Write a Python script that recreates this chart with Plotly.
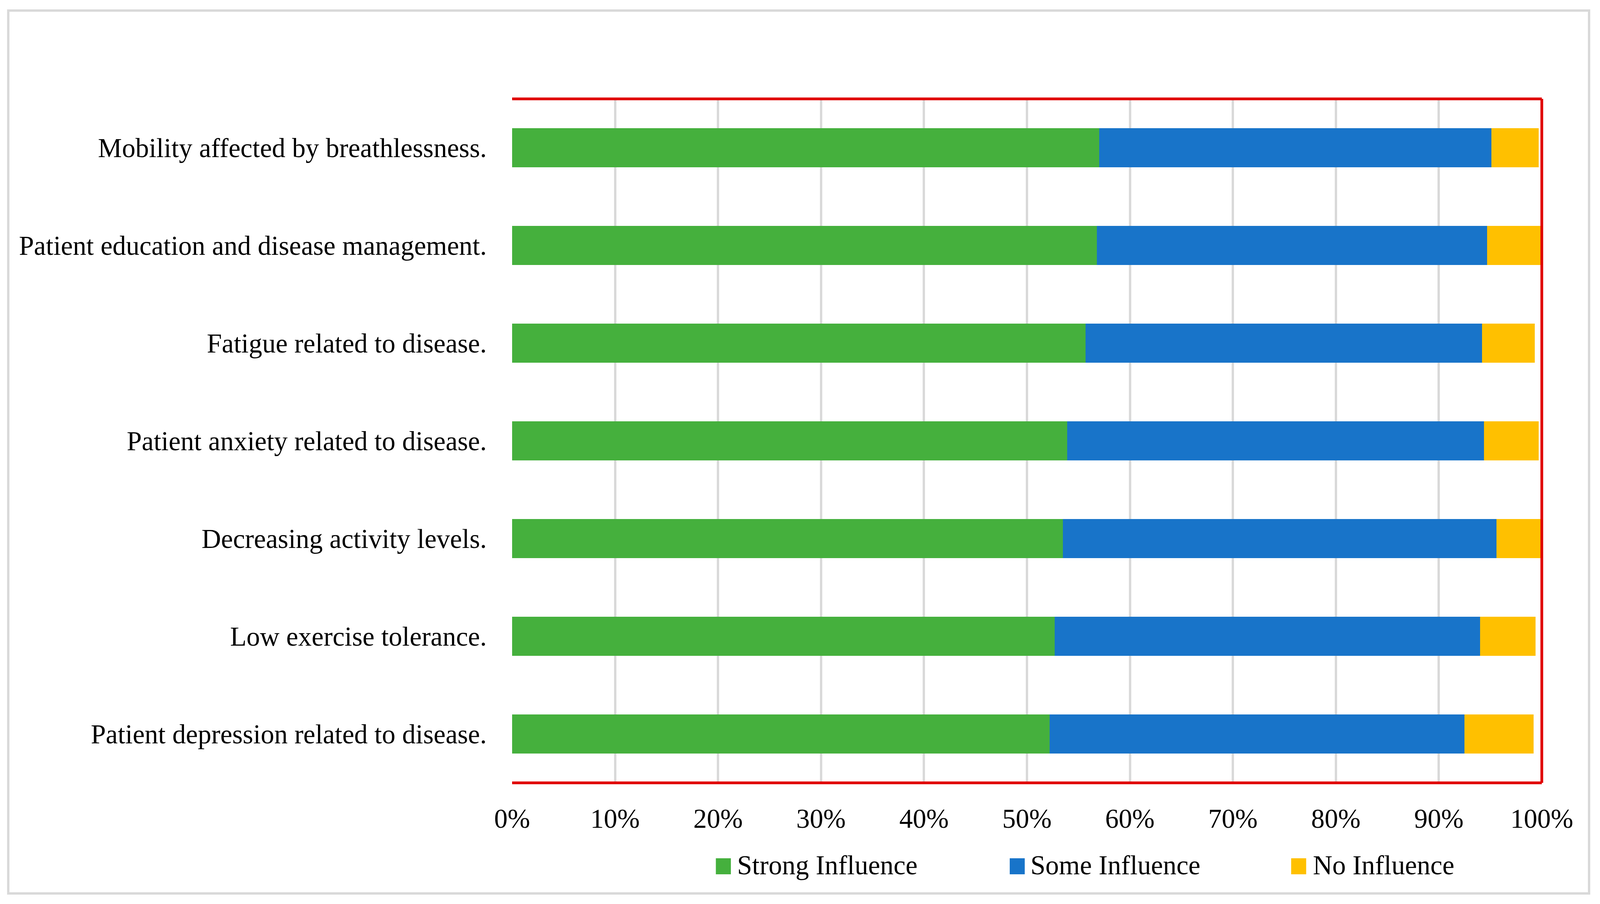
import plotly.graph_objects as go

categories = [
    "Mobility affected by breathlessness.",
    "Patient education and disease management.",
    "Fatigue related to disease.",
    "Patient anxiety related to disease.",
    "Decreasing activity levels.",
    "Low exercise tolerance.",
    "Patient depression related to disease.",
]
series_names = ["Strong Influence", "Some Influence", "No Influence"]
strong = [57.0, 56.8, 55.7, 53.9, 53.5, 52.7, 52.2]
some = [38.1, 37.9, 38.5, 40.5, 42.1, 41.3, 40.3]
none_ = [4.6, 5.2, 5.1, 5.3, 4.4, 5.4, 6.7]
tick_vals = [0, 10, 20, 30, 40, 50, 60, 70, 80, 90, 100]
tick_text = ["0%", "10%", "20%", "30%", "40%", "50%", "60%", "70%", "80%", "90%", "100%"]

colors = ["#45B03D", "#1874C9", "#FFC000"]
FONT = "Liberation Serif"

# viewport is about 4096 x 2313 css px; reference is 4366 x 2313
VW, VH = 4096, 2313
KX = 4366 / VW
KY = 2313 / VH
BODY = 8


def cx(v):
    return v / KX - BODY


def cy(v):
    return v / KY - BODY


W = VW - 2 * BODY
H = VH - 2 * BODY
L, R, T, B = cx(1397), cx(4207), cy(253), cy(2003)


def px(x, y):
    return (cx(x) - L) / (R - L), (B - cy(y)) / (B - T)


FS = 69

fig = go.Figure()
for name, vals, col in zip(series_names, [strong, some, none_], colors):
    fig.add_trace(go.Bar(y=categories, x=vals, name=name, orientation="h",
                         marker=dict(color=col, line=dict(width=0)),
                         showlegend=False))

shapes = []
x0, y0 = px(22, 2286)
x1, y1 = px(4336, 27)
shapes.append(dict(type="rect", xref="paper", yref="paper", x0=x0, y0=y0, x1=x1, y1=y1,
                   line=dict(color="#D9D9D9", width=6), layer="below"))
for (a, b, cc, d) in [(0, 1, 1, 1), (1, 0, 1, 1), (0, 0, 1, 0)]:
    shapes.append(dict(type="line", xref="paper", yref="paper", x0=a, y0=b, x1=cc, y1=d,
                       line=dict(color="#E00000", width=7), layer="above"))

annotations = []
leg_sq = [1953, 2755, 3523]
leg_tx = [2010, 2811, 3581]
for name, col, sx, tx in zip(series_names, colors, leg_sq, leg_tx):
    a0, b0 = px(sx, 2237)
    a1, b1 = px(sx + 41, 2196)
    shapes.append(dict(type="rect", xref="paper", yref="paper", x0=a0, y0=b0, x1=a1, y1=b1,
                       fillcolor=col, line=dict(width=0)))
    ax, ay = px(tx, 2214)
    annotations.append(dict(xref="paper", yref="paper", x=ax, y=ay, text=name,
                            showarrow=False, xanchor="left", yanchor="middle",
                            font=dict(family=FONT, size=FS, color="black"),
                            borderpad=0))

fig.update_layout(
    barmode="stack",
    bargap=0.6,
    width=W, height=H,
    margin=dict(l=L, r=W - R, t=T, b=H - B, pad=0, autoexpand=False),
    paper_bgcolor="white", plot_bgcolor="white",
    font=dict(family=FONT, size=FS, color="black"),
    shapes=shapes,
    annotations=annotations,
    xaxis=dict(range=[0, 100], tickvals=tick_vals, ticktext=tick_text,
               showgrid=True, gridcolor="#D9D9D9", gridwidth=6,
               zeroline=False, showline=False, ticks="",
               ticklabelstandoff=45, automargin=False,
               tickfont=dict(family=FONT, size=FS, color="black"), fixedrange=True),
    yaxis=dict(autorange="reversed", showgrid=False, zeroline=False, showline=False,
               ticks="", ticklabelstandoff=64, automargin=False,
               tickfont=dict(family=FONT, size=FS, color="black"), fixedrange=True),
)
fig.write_html("out.html")
